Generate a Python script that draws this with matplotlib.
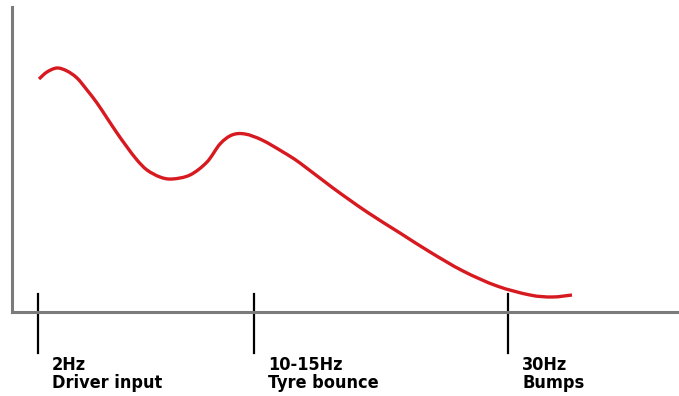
import matplotlib.pyplot as plt
from matplotlib.path import Path
from matplotlib.patches import PathPatch

'''
Frequency response sketch: driver input, tyre bounce and bump regions
'''

# curve (position along axis, response height)
pos = [27, 35, 45, 55, 65, 75, 85, 95, 105, 115, 125, 135, 148, 160, 178,
       195, 208, 220, 233, 250, 271, 288, 321, 355, 388, 418, 451, 485, 518,
       540, 560]
resp = [233, 240, 244, 241, 234, 222, 209, 194, 179, 165, 152, 142, 135, 133,
        137, 150, 168, 177, 178, 172, 160, 149, 124, 100, 79, 60, 41, 26, 17,
        15, 17]

# marker positions and their labels
tick_pos = [26, 242, 496]
tick_freq = ['2Hz', '10-15Hz', '30Hz']
tick_name = ['Driver input', 'Tyre bounce', 'Bumps']

# smooth path through the points (catmull-rom as cubic beziers)
def smooth_path(xs, ys):
	pts = list(zip(xs, ys))
	verts = [pts[0]]
	codes = [Path.MOVETO]
	for i in range(len(pts) - 1):
		p0 = pts[max(i - 1, 0)]
		p1 = pts[i]
		p2 = pts[i + 1]
		p3 = pts[min(i + 2, len(pts) - 1)]
		c1 = (p1[0] + (p2[0] - p0[0]) / 6.0, p1[1] + (p2[1] - p0[1]) / 6.0)
		c2 = (p2[0] - (p3[0] - p1[0]) / 6.0, p2[1] - (p3[1] - p1[1]) / 6.0)
		verts += [c1, c2, p2]
		codes += [Path.CURVE4] * 3
	return Path(verts, codes)

fig = plt.figure(figsize=(6.79, 3.96), dpi=100)
ax = fig.add_axes([12/679, (396-312)/396, 667/679, 305/396])
ax.add_patch(PathPatch(smooth_path(pos, resp), facecolor='none',
	edgecolor='#d71920', lw=2.4, capstyle='butt'))
ax.set_xlim(0, 667)
ax.set_ylim(0, 305)

for s in ['top', 'right']:
	ax.spines[s].set_visible(False)
for s in ['left', 'bottom']:
	ax.spines[s].set_color('#7b7b7b')
	ax.spines[s].set_linewidth(2.2)
ax.set_xticks([])
ax.set_yticks([])

for x, f, n in zip(tick_pos, tick_freq, tick_name):
	ax.plot([x, x], [-41, 18], color='black', lw=1.6, clip_on=False)
	ax.text(x + 14, -58, f, family='DejaVu Sans', stretch='condensed',
		weight='bold', fontsize=13, va='baseline', ha='left', clip_on=False)
	ax.text(x + 14, -76, n, family='DejaVu Sans', stretch='condensed',
		weight='bold', fontsize=13, va='baseline', ha='left', clip_on=False)

fig.savefig('out.png', dpi=100)
